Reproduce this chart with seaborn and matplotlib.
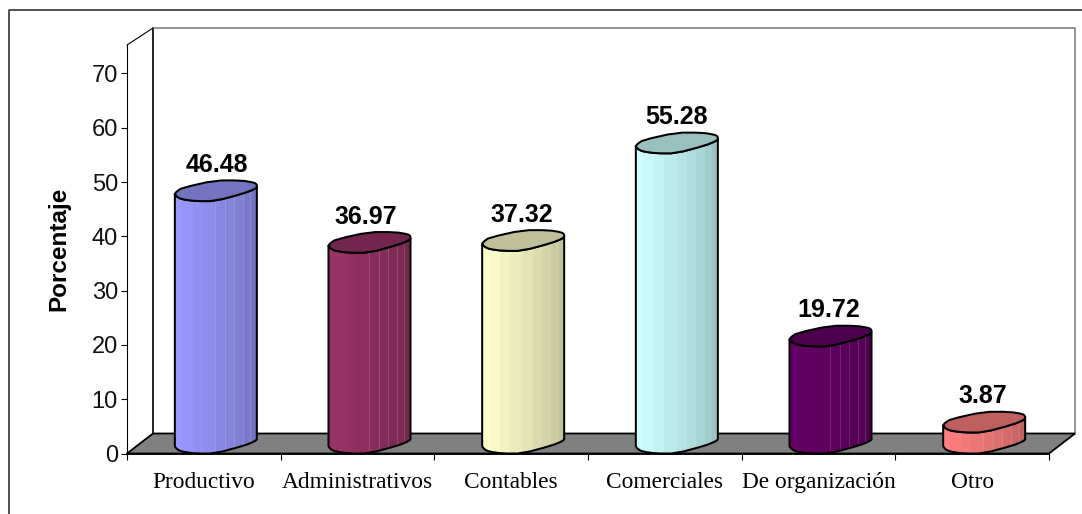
import matplotlib
matplotlib.use('Agg')
import matplotlib.pyplot as plt
from matplotlib.patches import PathPatch, Polygon
from matplotlib.path import Path
import numpy as np
import seaborn as sns

categories = ['Productivo', 'Administrativos', 'Contables', 'Comerciales', 'De organización', 'Otro']
values = [46.48, 36.97, 37.32, 55.28, 19.72, 3.87]
colors = ['#9999FF', '#993366', '#FFFFCC', '#CCFFFF', '#660066', '#FF8080']
y_ticks = [0, 10, 20, 30, 40, 50, 60, 70]

W, H = 1082, 514
# plot box in pixels
LEFT, RIGHT, BASE = 127, 1049, 453.5
PX_PER_UNIT = 5.43
TOP = 45
DEPTH_X, DEPTH_Y = 26, 20
BAR_SHIFT = 12
BAR_PX = 82
LABEL_NUDGE = [1, -4, -1, 0, -2, -1]

# cylinder outline: (share of bar width, px above front edge)
FRONT = [(0, 7), (0.03, 4), (0.09, 1.8), (0.25, 0), (0.49, 0), (0.85, 8), (0.97, 12), (1, 14)]
BACK = [(1, 16.5), (0.97, 18.5), (0.81, 20.7), (0.49, 20.7), (0.09, 13.3), (0.02, 9.5)]
BANDS = [0, 0.08, 0.22, 0.34, 0.49, 0.61, 0.72, 0.83, 0.92, 1]
SHADES = [1.0, 0.98, 0.95, 0.92, 0.89, 0.86, 0.83, 0.80, 0.76]


def smooth(points, rounds=1):
    # corner cutting, keeps the two end points
    pts = np.array(points, dtype=float)
    for _ in range(rounds):
        q = 0.75 * pts[:-1] + 0.25 * pts[1:]
        r = 0.25 * pts[:-1] + 0.75 * pts[1:]
        mid = np.empty((2 * len(q), 2))
        mid[0::2] = q
        mid[1::2] = r
        pts = np.vstack([pts[0], mid, pts[-1]])
    return pts


def to_data(points, x0, width, value):
    pts = np.asarray(points)
    return np.column_stack([x0 + pts[:, 0] * width, value + pts[:, 1] / PX_PER_UNIT])


def shade(color, f):
    return tuple(c * f for c in matplotlib.colors.to_rgb(color))


sns.set_theme(style='white')
plt.rcParams['font.family'] = ['Liberation Sans', 'DejaVu Sans']

fig = plt.figure(figsize=(W / 100, H / 100), dpi=100, facecolor='white')
ax = fig.add_axes([LEFT / W, 1 - BASE / H, (RIGHT - LEFT) / W, (BASE - TOP) / H])
ax.patch.set_alpha(0)

sns.barplot(x=categories, y=values, hue=categories, palette=colors, legend=False,
            width=BAR_PX / ((RIGHT - LEFT) / 6), ax=ax, zorder=1)

ymax = (BASE - TOP) / PX_PER_UNIT
ax.set_xlim(-0.5, 5.5)
ax.set_ylim(0, ymax)

px_x = 6 / (RIGHT - LEFT)
dx = DEPTH_X * px_x
dy = DEPTH_Y / PX_PER_UNIT

# walls and floor
ax.add_patch(Polygon([(-0.5, 0), (-0.5 + dx, dy), (5.5 + dx, dy), (5.5, 0)], closed=True,
                     facecolor='#808080', edgecolor='black', lw=1.3, clip_on=False, zorder=0.5))
top_back = ymax + 17 / PX_PER_UNIT
ax.plot([-0.5 + dx, -0.5 + dx], [dy, top_back], color='black', lw=1.2, clip_on=False, zorder=0.4)
ax.plot([-0.5 + dx, 5.5 + dx, 5.5 + dx], [top_back, top_back, dy], color='#808080', lw=1.2,
        clip_on=False, zorder=0.4)
ax.plot([-0.5, -0.5 + dx], [ymax, top_back], color='black', lw=0.8, clip_on=False, zorder=0.4)

# bars from seaborn become the cylinders
for patch, value, color, nudge in zip(ax.patches[:len(values)], values, colors, LABEL_NUDGE):
    x0 = patch.get_x() + BAR_SHIFT * px_x
    width = patch.get_width()
    patch.set_visible(False)

    front = smooth(FRONT)
    body = np.vstack([
        to_data(front, x0, width, 0),
        to_data(front[::-1], x0, width, value),
    ])
    outline = Path(np.vstack([body, body[0]]))
    ax.add_patch(PathPatch(outline, facecolor='none', edgecolor='black', lw=1.45, zorder=3,
                           joinstyle='round', clip_on=False))

    for k, f in enumerate(SHADES):
        clip = PathPatch(outline, transform=ax.transData)
        ax.fill_between([x0 + BANDS[k] * width, x0 + BANDS[k + 1] * width], -1, value + 5,
                        color=shade(color, f), lw=0, zorder=2, clip_path=clip)
    for edge in BANDS[4:-1]:
        clip = PathPatch(outline, transform=ax.transData)
        ax.plot([x0 + edge * width] * 2, [-1, value + 5], color='white', alpha=0.14, lw=0.8,
                zorder=2.5, clip_path=clip)

    cap = smooth(FRONT + BACK + [FRONT[0]])
    ax.add_patch(Polygon(to_data(cap, x0, width, value), closed=True, facecolor=shade(color, 0.75),
                         edgecolor='black', lw=1.45, zorder=4, clip_on=False))

    ax.annotate(f'{value:.2f}', (x0 + width / 2, value), xytext=(nudge * 0.72, 29 * 0.72),
                textcoords='offset points', ha='center', va='baseline', fontsize=18,
                fontweight='bold', color='black', zorder=5, annotation_clip=False)

sns.despine(ax=ax, top=True, right=True)
ax.spines['left'].set(color='black', lw=0.8)
ax.spines['bottom'].set(color='black', lw=1.3)

ax.set_yticks(y_ticks)
ax.tick_params(axis='y', left=True, length=4.5, width=0.8, color='black', labelsize=17, pad=2, labelcolor='#111111')

# ticks sit between categories, labels on the centres
ax.set_xticks(np.arange(-0.5, 6.5, 1))
ax.set_xticklabels([])
ax.set_xticks(range(len(categories)), labels=categories, minor=True)
ax.tick_params(axis='x', which='major', bottom=True, length=4.5, width=0.8, color='black')
ax.tick_params(axis='x', which='minor', bottom=False, length=0, pad=13, labelsize=16.8, labelcolor='black')
for lab in ax.get_xticklabels(minor=True):
    lab.set_family(['Liberation Serif', 'DejaVu Serif'])

ax.set_xlabel('')
ax.set_ylabel('Porcentaje', fontsize=17.5, fontweight='bold', color='black', labelpad=15)

# frame round the whole chart, cut off at the right and bottom of the picture
fig.add_artist(plt.Line2D([9 / W, 9 / W, 1], [0, 1 - 10 / H, 1 - 10 / H], transform=fig.transFigure,
                          color='#333333', lw=1.2))

fig.savefig('out.png', dpi=100)
plt.close(fig)
